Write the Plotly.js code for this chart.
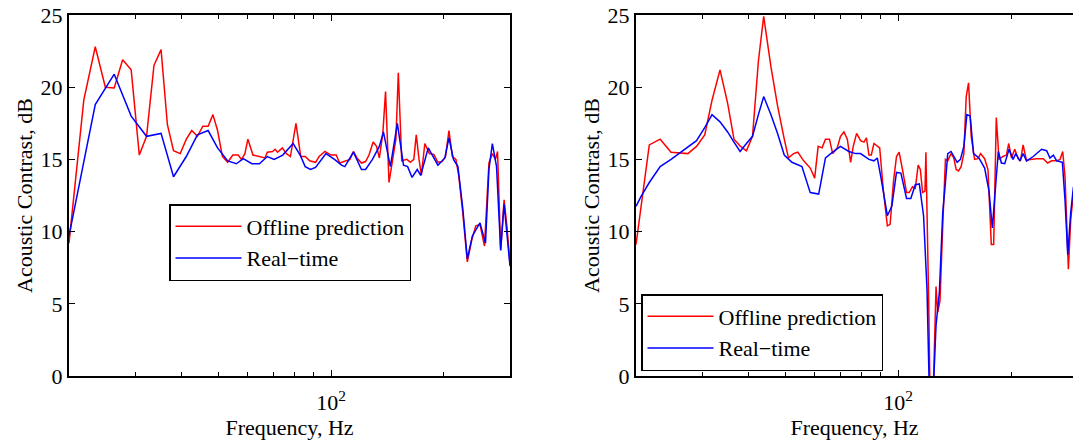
<!DOCTYPE html>
<html>
<head>
<meta charset="utf-8">
<script src="https://cdn.plot.ly/plotly-3.0.1.min.js"></script>
<style>html,body{margin:0;padding:0;background:#fff;}#chart{width:1073px;height:440px;}</style>
</head>
<body>
<div id="chart"></div>
<script>
// ---- Left panel: Offline prediction ----
var leftOfflineFreq = [20.0,21.9,23.5,25.0,26.4,27.8,29.3,30.8,32.2,33.7,35.2,36.6,38.0,39.6,41.1,42.5,44.0,45.5,47.0,48.4,49.8,51.3,53.0,54.7,56.5,57.7,58.9,60.0,61.9,64.1,66.6,67.6,69.8,70.9,72.0,74.1,76.0,77.9,80.6,83.0,85.3,87.7,90.9,92.9,96.3,100,103.2,105.4,108.8,112.3,114.7,117.2,120.5,123.6,126.2,129.5,132.2,134.5,137.4,139.7,142.7,146.4,148.9,151.1,154.3,159.3,162.7,166.2,168.7,171.6,174.1,177.8,182.8,187.9,192.7,197.7,201.9,206.2,210.6,215.2,218.9,224.5,230.8,237.1,243.2,249.5,256.5,263.6,269.2,274.4,277.9,283.3,289.3,294.3,300.0];
var leftOfflineVal = [9.2,19.1,22.8,20.0,19.95,21.9,21.2,15.3,16.6,21.5,22.6,17.4,15.6,15.4,16.4,17.0,16.6,17.3,17.3,18.1,17.0,15.2,14.8,15.3,15.3,15.0,15.4,16.4,15.3,15.2,15.1,15.5,15.55,15.7,15.5,15.8,15.4,15.2,17.5,15.2,15.2,14.9,14.8,15.2,15.55,15.3,15.3,14.75,14.9,15.0,15.55,15.1,14.75,14.85,15.3,16.2,15.9,15.1,16.8,19.7,13.4,15.2,16.4,21.0,14.9,15.0,14.8,15.0,16.7,15.0,13.9,16.1,15.4,15.35,14.8,14.85,15.2,17.0,15.2,15.0,13.9,11.3,7.9,9.4,10.4,10.5,9.0,14.75,15.4,15.0,15.55,8.75,12.2,10.4,7.8];
// ---- Left panel: Real-time ----
var leftRealFreq = [20.0,23.5,26.4,29.3,32.2,35.2,38.0,41.1,44.0,47.0,49.8,53.0,55.9,58.3,61.5,64.4,67.6,70.5,74.3,79.2,82.7,85.3,88.1,90.9,96.9,102.1,106.6,108.8,114.7,120.5,123.6,128.9,134.5,137.9,143.9,150.2,156.0,160.0,164.4,169.7,173.4,181.6,192.7,201.1,206.2,212.0,217.9,224.5,230.8,238.1,249.5,258.1,263.6,269.2,276.2,283.3,289.3,300.0];
var leftRealVal = [9.7,18.8,20.9,18.0,16.6,16.8,13.8,15.2,16.7,17.0,15.8,14.9,14.7,15.05,14.7,14.7,15.2,15.0,15.3,16.1,15.3,14.5,14.3,14.45,15.4,15.0,14.6,14.5,15.5,14.3,14.3,15.0,15.9,16.9,14.5,17.5,14.6,14.5,13.75,14.3,13.9,15.8,14.6,15.1,16.5,15.0,14.5,11.6,8.1,9.7,10.6,9.2,14.3,16.1,14.5,8.7,11.9,7.6];
// ---- Right panel: Offline prediction ----
var rightOfflineFreq = [20.0,21.7,23.2,24.8,27.5,29.0,30.5,31.9,33.5,35.1,36.5,38.0,39.4,40.9,42.4,43.8,45.8,47.7,49.7,51.0,52.6,54.0,56.0,58.3,59.9,61.2,62.7,64.0,65.6,66.9,68.8,70.2,71.7,73.2,74.7,75.9,77.5,79.4,81.1,82.3,83.6,84.8,86.2,88.0,89.3,91.3,93.6,95.2,97.2,99.0,100.6,102.7,105.3,107.0,109.2,111.1,113.1,114.6,116.2,117.9,118.6,120.6,121.6,124.1,126.2,127.5,129.3,131.5,133.7,135.6,138.4,140.7,142.8,144.9,147.2,149.7,151.9,154.1,156.6,159.9,163.2,165.9,170.1,173.6,177.2,179.8,182.7,185.8,190.4,194.4,197.2,200.5,204.6,208.9,211.9,215.4,220.0,225.4,233.9,243.8,250.4,256.6,264.7,270.2,274.7,278.6,284.4,288.5,293.4];
var rightOfflineVal = [9.1,16.0,16.4,15.5,15.4,15.9,16.7,19.1,21.2,18.9,16.4,15.9,15.6,16.6,21.8,24.9,21.4,18.7,16.4,15.1,15.4,15.5,14.9,14.4,13.7,15.9,15.8,16.4,16.4,15.4,15.8,16.6,16.9,16.4,14.8,15.9,16.8,16.3,16.2,16.5,15.3,15.3,16.1,15.9,15.8,12.9,10.4,10.5,13.5,15.2,15.5,14.3,12.7,12.7,13.1,13.0,14.6,14.3,12.7,12.8,15.5,5.3,-1,-1,6.2,4.4,5.2,10.4,15.0,14.9,15.4,15.1,14.3,14.2,14.5,15.4,19.35,20.3,16.6,15.0,15.05,15.4,15.05,14.3,9.1,9.1,17.9,15.0,15.2,15.3,16.1,15.1,15.7,15.05,14.9,16.0,14.9,15.0,15.05,15.05,14.75,14.9,14.9,15.0,15.55,13.8,7.4,10.8,12.7];
// ---- Right panel: Real-time ----
var rightRealFreq = [20.0,20.6,21.7,23.2,24.8,27.0,29.0,30.5,31.9,33.5,35.1,36.5,37.9,39.4,40.9,42.4,43.8,45.8,47.7,49.7,52.1,55.4,58.3,61.4,64.0,66.9,70.2,73.9,77.0,79.4,83.6,86.2,88.0,89.9,93.6,96.2,99.0,101.7,105.3,108.1,111.1,113.9,116.9,119.4,121.1,124.1,126.2,128.8,131.5,133.7,135.6,138.4,140.7,143.7,146.6,149.7,152.5,155.6,158.9,164.2,170.1,174.7,178.3,182.0,185.0,188.5,192.4,197.6,202.5,205.9,211.1,215.4,220.0,229.2,241.3,248.9,254.0,259.3,264.7,274.1,278.6,283.3,288.5,293.4];
var rightRealVal = [11.75,12.4,13.4,14.5,15.0,15.7,16.3,17.2,18.1,17.6,16.9,16.2,15.55,16.1,16.6,18.1,19.35,18.1,16.8,15.3,14.8,14.5,12.7,12.6,15.1,15.5,15.9,15.55,15.4,15.4,15.0,14.9,15.1,13.8,11.1,11.75,14.1,14.05,12.3,12.3,13.25,13.3,11.1,6.0,-1,-1,3.5,5.8,11.3,13.4,15.4,15.55,15.2,14.8,15.0,15.9,18.1,18.0,15.4,15.1,14.4,12.8,10.25,13.1,15.55,14.75,14.7,15.7,15.0,15.4,14.9,15.4,14.9,15.2,15.7,15.6,15.1,15.3,14.9,14.8,12.2,8.4,11.3,13.1];

var seriesNames = ['Offline prediction', 'Real\u2212time'];
var yTickVals = [0, 5, 10, 15, 20, 25];
var xMajorVals = [100];
var xMajorText = ['10<sup>2</sup>'];
var xMinorVals = [30, 40, 50, 60, 70, 80, 90, 200];

var FONT = 'Liberation Serif, Times New Roman, serif';
var RED = '#ff0000', BLUE = '#0000ff';

var traces = [
  {x: leftOfflineFreq, y: leftOfflineVal, name: seriesNames[0], type: 'scatter', mode: 'lines',
   line: {color: RED, width: 1.5}, xaxis: 'x', yaxis: 'y', legend: 'legend'},
  {x: leftRealFreq, y: leftRealVal, name: seriesNames[1], type: 'scatter', mode: 'lines',
   line: {color: BLUE, width: 1.5}, xaxis: 'x', yaxis: 'y', legend: 'legend'},
  {x: rightOfflineFreq, y: rightOfflineVal, name: seriesNames[0], type: 'scatter', mode: 'lines',
   line: {color: RED, width: 1.5}, xaxis: 'x2', yaxis: 'y2', legend: 'legend2'},
  {x: rightRealFreq, y: rightRealVal, name: seriesNames[1], type: 'scatter', mode: 'lines',
   line: {color: BLUE, width: 1.5}, xaxis: 'x2', yaxis: 'y2', legend: 'legend2'}
];

function xAxis(domain, range, mirror, anchor) {
  return {
    type: 'log', domain: domain, range: range, anchor: anchor,
    tickmode: 'array', tickvals: xMajorVals, ticktext: xMajorText,
    ticks: 'inside', ticklen: 6, tickwidth: 1, tickcolor: '#000',
    minor: {tickmode: 'array', tickvals: xMinorVals, ticks: 'inside', ticklen: 4, tickwidth: 1, tickcolor: '#000', showgrid: false},
    ticklabelstandoff: 6,
    showline: true, linecolor: '#000', linewidth: 2, mirror: mirror,
    showgrid: false, zeroline: false,
    tickfont: {family: FONT, size: 22, color: '#000'},
    title: {text: 'Frequency, Hz', font: {family: FONT, size: 22, color: '#000'}, standoff: 2}
  };
}
function yAxis(domain, mirror, anchor) {
  return {
    range: [0, 25], domain: domain, anchor: anchor,
    tickmode: 'array', tickvals: yTickVals,
    ticks: 'inside', ticklen: 6, tickwidth: 1, tickcolor: '#000',
    showline: true, linecolor: '#000', linewidth: 2, mirror: mirror,
    showgrid: false, zeroline: false,
    tickfont: {family: FONT, size: 22, color: '#000'},
    title: {text: 'Acoustic Contrast, dB', font: {family: FONT, size: 22, color: '#000'}, standoff: 2}
  };
}

var layout = {
  width: 1073, height: 440,
  margin: {l: 0, r: 0, t: 15, b: 64},
  paper_bgcolor: '#fff', plot_bgcolor: '#fff',
  font: {family: FONT, size: 22, color: '#000'},
  xaxis: xAxis([69/1073, 510/1073], [Math.log10(20), Math.log10(300)], 'ticks', 'y'),
  yaxis: yAxis([0, 1], 'ticks', 'x'),
  xaxis2: xAxis([636/1073, 1], [Math.log10(20), Math.log10(292.6)], 'ticks', 'y2'),
  yaxis2: yAxis([0, 1], false, 'x2'),
  legend: {x: 169/1073, y: (376-204)/361, xanchor: 'left', yanchor: 'top',
    bgcolor: '#fff', bordercolor: '#000', borderwidth: 1.5,
    font: {family: FONT, size: 22, color: '#000'}, itemwidth: 66, tracegroupgap: 0},
  legend2: {x: 641/1073, y: (376-294)/361, xanchor: 'left', yanchor: 'top',
    bgcolor: '#fff', bordercolor: '#000', borderwidth: 1.5,
    font: {family: FONT, size: 22, color: '#000'}, itemwidth: 66, tracegroupgap: 0},
  showlegend: true
};

Plotly.newPlot('chart', traces, layout, {staticPlot: true, displayModeBar: false});
</script>
</body>
</html>
